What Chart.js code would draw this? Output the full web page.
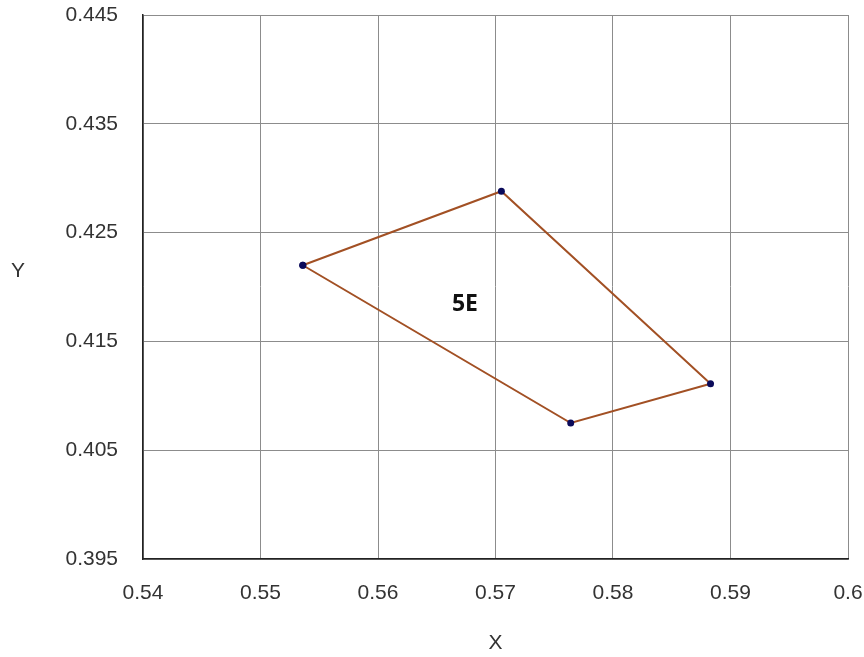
<!DOCTYPE html>
<html>
<head>
<meta charset="utf-8">
<script src="https://cdn.jsdelivr.net/npm/chart.js@4"></script>
<style>
  body { margin: 0; background: #fff; }
  #wrap { width: 864px; height: 657px; }
</style>
</head>
<body>
<div id="wrap"><canvas id="mycanvas"></canvas></div>
<script>
// polygon 5E, closed back to first point
var xVals = [0.5536, 0.5705, 0.5883, 0.5764, 0.5536];
var yVals = [0.4220, 0.4288, 0.4111, 0.4075, 0.4220];
var xTicks = [0.54, 0.55, 0.56, 0.57, 0.58, 0.59, 0.6];
var yTicks = [0.395, 0.405, 0.415, 0.425, 0.435, 0.445];
var regionLabel = "5E";
var labelX = 0.5674;
var labelY = 0.4184;

var pts = [];
for (var i in xVals) {
    pts.push({ x: xVals[i], y: yVals[i] });
}

var extras = {
    id: 'extras',
    afterDraw: function(chart) {
        var c = chart.ctx;
        var xs = chart.scales.x, ys = chart.scales.y;
        c.save();
        c.fillStyle = '#333';
        c.font = '21px "Liberation Sans", Arial, sans-serif';
        c.textAlign = 'center';
        c.textBaseline = 'middle';
        c.fillText('Y', 18, 271);
        c.fillText('X', (xs.left + xs.right) / 2, 643);
        c.fillStyle = '#111';
        c.font = 'bold 23px "Open Sans", "DejaVu Sans", sans-serif';
        c.fillText(regionLabel, xs.getPixelForValue(labelX), ys.getPixelForValue(labelY));
        c.restore();
    }
};

var ctx = document.getElementById('mycanvas');
var chart = new Chart(ctx, {
    type: 'scatter',
    data: {
        datasets: [{
            label: regionLabel,
            data: pts,
            showLine: true,
            borderColor: 'rgb(162, 80, 36)',
            borderWidth: 2,
            pointRadius: 3.5,
            pointBackgroundColor: 'rgb(10, 10, 90)',
            pointBorderColor: 'rgb(10, 10, 90)',
            pointBorderWidth: 0,
            tension: 0
        }]
    },
    options: {
        responsive: true,
        maintainAspectRatio: false,
        animation: false,
        layout: { padding: { top: 15, right: 16, left: 0, bottom: 0 } },
        plugins: { legend: { display: false }, tooltip: { enabled: false } },
        scales: {
            x: {
                type: 'linear',
                min: 0.54, max: 0.6,
                afterBuildTicks: function(s) { s.ticks = xTicks.map(function(v) { return { value: v }; }); },
                afterFit: function(s) { s.height = 98; s.paddingLeft = 0; s.paddingRight = 0; },
                grid: { color: '#8c8c8c', lineWidth: 1, tickLength: 0 },
                border: { color: '#222', width: 1.5 },
                ticks: {
                    color: '#333',
                    padding: 22,
                    maxRotation: 0,
                    font: { size: 21, family: '"Liberation Sans", Arial, sans-serif' },
                    callback: function(v) { return String(v); }
                }
            },
            y: {
                type: 'linear',
                min: 0.395, max: 0.445,
                afterBuildTicks: function(s) { s.ticks = yTicks.map(function(v) { return { value: v }; }); },
                afterFit: function(s) { s.width = 143; s.paddingTop = 0; s.paddingBottom = 0; },
                grid: { color: '#8c8c8c', lineWidth: 1, tickLength: 0 },
                border: { color: '#222', width: 1.5 },
                ticks: {
                    color: '#333',
                    padding: 25,
                    font: { size: 21, family: '"Liberation Sans", Arial, sans-serif' },
                    callback: function(v) { return String(v); }
                }
            }
        }
    },
    plugins: [extras]
});
</script>
</body>
</html>
